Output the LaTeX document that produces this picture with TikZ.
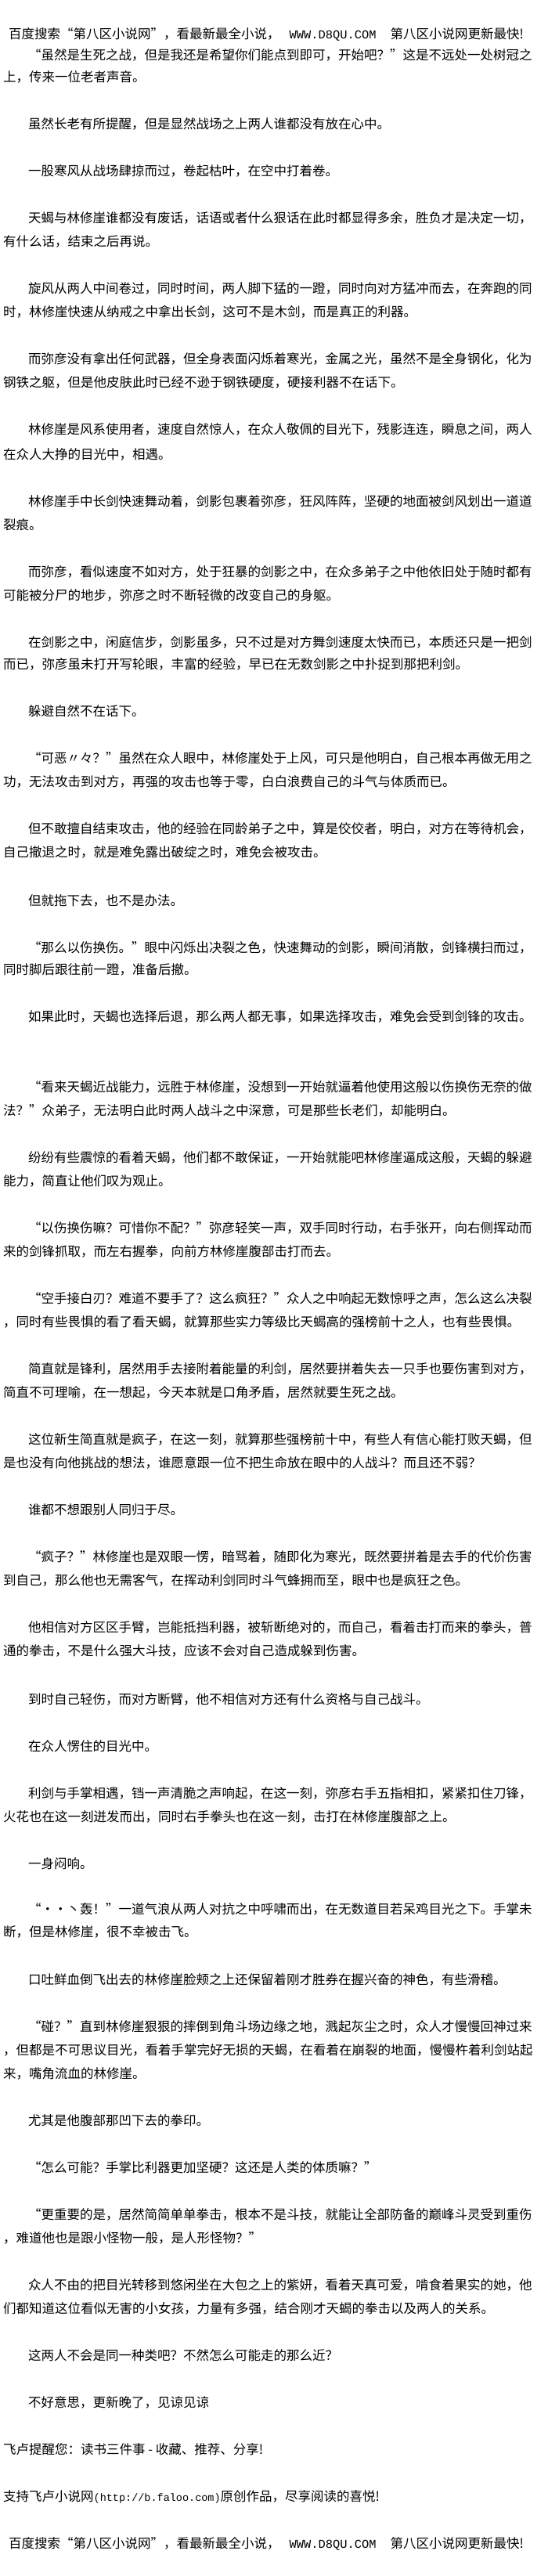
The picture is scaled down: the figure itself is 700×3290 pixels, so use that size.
\documentclass[tikz,border=0pt]{standalone}
\usepackage{fontspec}
\setmainfont{Noto Sans CJK SC}
\newfontfamily\monofont{Liberation Mono}
\usepackage{tikz}
\tikzset{>=latex}
\tikzset{
  txt/.style={anchor=west, inner sep=0pt, text height=14.5pt, text depth=2pt,
    font=\fontsize{16.5pt}{20pt}\selectfont}
}
\newcommand{\siteurl}{\hspace{12pt}{\fontsize{15.4pt}{20pt}\monofont WWW.D8QU.COM}\hspace{18pt}}
\begin{document}
\begin{tikzpicture}[x=1pt, y=-1pt]
        \useasboundingbox[fill=white] (0, 0) rectangle (700, 3290);
        % header
        \node[txt] (hd) at (11, 43) {百度搜索“第八区小说网”，看最新最全小说，\siteurl 第八区小说网更新最快!};
        % body
        \node[txt] (l1) at (36, 70) {“虽然是生死之战，但是我还是希望你们能点到即可，开始吧？”这是不远处一处树冠之};
        \node[txt] (l2) at (4, 98) {上，传来一位老者声音。};
        \node[txt] (l3) at (36, 158) {虽然长老有所提醒，但是显然战场之上两人谁都没有放在心中。};
        \node[txt] (l4) at (36, 218) {一股寒风从战场肆掠而过，卷起枯叶，在空中打着卷。};
        \node[txt] (l5) at (36, 278) {天蝎与林修崖谁都没有废话，话语或者什么狠话在此时都显得多余，胜负才是决定一切，};
        \node[txt] (l6) at (4, 308) {有什么话，结束之后再说。};
        \node[txt] (l7) at (36, 368) {旋风从两人中间卷过，同时时间，两人脚下猛的一蹬，同时向对方猛冲而去，在奔跑的同};
        \node[txt] (l8) at (4, 398) {时，林修崖快速从纳戒之中拿出长剑，这可不是木剑，而是真正的利器。};
        \node[txt] (l9) at (36, 458) {而弥彦没有拿出任何武器，但全身表面闪烁着寒光，金属之光，虽然不是全身钢化，化为};
        \node[txt] (l10) at (4, 488) {钢铁之躯，但是他皮肤此时已经不逊于钢铁硬度，硬接利器不在话下。};
        \node[txt] (l11) at (36, 548) {林修崖是风系使用者，速度自然惊人，在众人敬佩的目光下，残影连连，瞬息之间，两人};
        \node[txt] (l12) at (4, 580) {在众人大挣的目光中，相遇。};
        \node[txt] (l13) at (36, 640) {林修崖手中长剑快速舞动着，剑影包裹着弥彦，狂风阵阵，坚硬的地面被剑风划出一道道};
        \node[txt] (l14) at (4, 670) {裂痕。};
        \node[txt] (l15) at (36, 730) {而弥彦，看似速度不如对方，处于狂暴的剑影之中，在众多弟子之中他依旧处于随时都有};
        \node[txt] (l16) at (4, 760) {可能被分尸的地步，弥彦之时不断轻微的改变自己的身躯。};
        \node[txt] (l17) at (36, 820) {在剑影之中，闲庭信步，剑影虽多，只不过是对方舞剑速度太快而已，本质还只是一把剑};
        \node[txt] (l18) at (4, 848) {而已，弥彦虽未打开写轮眼，丰富的经验，早已在无数剑影之中扑捉到那把利剑。};
        \node[txt] (l19) at (36, 908) {躲避自然不在话下。};
        \node[txt] (l20) at (36, 968) {“可恶〃々？”虽然在众人眼中，林修崖处于上风，可只是他明白，自己根本再做无用之};
        \node[txt] (l21) at (4, 998) {功，无法攻击到对方，再强的攻击也等于零，白白浪费自己的斗气与体质而已。};
        \node[txt] (l22) at (36, 1058) {但不敢擅自结束攻击，他的经验在同龄弟子之中，算是佼佼者，明白，对方在等待机会，};
        \node[txt] (l23) at (4, 1088) {自己撤退之时，就是难免露出破绽之时，难免会被攻击。};
        \node[txt] (l24) at (36, 1150) {但就拖下去，也不是办法。};
        \node[txt] (l25) at (36, 1210) {“那么以伤换伤。”眼中闪烁出决裂之色，快速舞动的剑影，瞬间消散，剑锋横扫而过，};
        \node[txt] (l26) at (4, 1238) {同时脚后跟往前一蹬，准备后撤。};
        \node[txt] (l27) at (36, 1298) {如果此时，天蝎也选择后退，那么两人都无事，如果选择攻击，难免会受到剑锋的攻击。};
        \node[txt] (l28) at (36, 1388) {“看来天蝎近战能力，远胜于林修崖，没想到一开始就逼着他使用这般以伤换伤无奈的做};
        \node[txt] (l29) at (4, 1418) {法？”众弟子，无法明白此时两人战斗之中深意，可是那些长老们，却能明白。};
        \node[txt] (l30) at (36, 1478) {纷纷有些震惊的看着天蝎，他们都不敢保证，一开始就能吧林修崖逼成这般，天蝎的躲避};
        \node[txt] (l31) at (4, 1508) {能力，简直让他们叹为观止。};
        \node[txt] (l32) at (36, 1568) {“以伤换伤嘛？可惜你不配？”弥彦轻笑一声，双手同时行动，右手张开，向右侧挥动而};
        \node[txt] (l33) at (4, 1598) {来的剑锋抓取，而左右握拳，向前方林修崖腹部击打而去。};
        \node[txt] (l34) at (36, 1658) {“空手接白刃？难道不要手了？这么疯狂？”众人之中响起无数惊呼之声，怎么这么决裂};
        \node[txt] (l35) at (4, 1688) {，同时有些畏惧的看了看天蝎，就算那些实力等级比天蝎高的强榜前十之人，也有些畏惧。};
        \node[txt] (l36) at (36, 1748) {简直就是锋利，居然用手去接附着能量的利剑，居然要拼着失去一只手也要伤害到对方，};
        \node[txt] (l37) at (4, 1778) {简直不可理喻，在一想起，今天本就是口角矛盾，居然就要生死之战。};
        \node[txt] (l38) at (36, 1838) {这位新生简直就是疯子，在这一刻，就算那些强榜前十中，有些人有信心能打败天蝎，但};
        \node[txt] (l39) at (4, 1868) {是也没有向他挑战的想法，谁愿意跟一位不把生命放在眼中的人战斗？而且还不弱？};
        \node[txt] (l40) at (36, 1928) {谁都不想跟别人同归于尽。};
        \node[txt] (l41) at (36, 1988) {“疯子？”林修崖也是双眼一愣，暗骂着，随即化为寒光，既然要拼着是去手的代价伤害};
        \node[txt] (l42) at (4, 2018) {到自己，那么他也无需客气，在挥动利剑同时斗气蜂拥而至，眼中也是疯狂之色。};
        \node[txt] (l43) at (36, 2078) {他相信对方区区手臂，岂能抵挡利器，被斩断绝对的，而自己，看着击打而来的拳头，普};
        \node[txt] (l44) at (4, 2108) {通的拳击，不是什么强大斗技，应该不会对自己造成躲到伤害。};
        \node[txt] (l45) at (36, 2170) {到时自己轻伤，而对方断臂，他不相信对方还有什么资格与自己战斗。};
        \node[txt] (l46) at (36, 2230) {在众人愣住的目光中。};
        \node[txt] (l47) at (36, 2290) {利剑与手掌相遇，铛一声清脆之声响起，在这一刻，弥彦右手五指相扣，紧紧扣住刀锋，};
        \node[txt] (l48) at (4, 2320) {火花也在这一刻迸发而出，同时右手拳头也在这一刻，击打在林修崖腹部之上。};
        \node[txt] (l49) at (36, 2380) {一身闷响。};
        \node[txt] (l50) at (36, 2438) {“··丶轰！”一道气浪从两人对抗之中呼啸而出，在无数道目若呆鸡目光之下。手掌未};
        \node[txt] (l51) at (4, 2467) {断，但是林修崖，很不幸被击飞。};
        \node[txt] (l52) at (36, 2528) {口吐鲜血倒飞出去的林修崖脸颊之上还保留着刚才胜券在握兴奋的神色，有些滑稽。};
        \node[txt] (l53) at (36, 2588) {“碰？”直到林修崖狠狠的摔倒到角斗场边缘之地，溅起灰尘之时，众人才慢慢回神过来};
        \node[txt] (l54) at (4, 2618) {，但都是不可思议目光，看着手掌完好无损的天蝎，在看着在崩裂的地面，慢慢杵着利剑站起};
        \node[txt] (l55) at (4, 2648) {来，嘴角流血的林修崖。};
        \node[txt] (l56) at (36, 2708) {尤其是他腹部那凹下去的拳印。};
        \node[txt] (l57) at (36, 2768) {“怎么可能？手掌比利器更加坚硬？这还是人类的体质嘛？”};
        \node[txt] (l58) at (36, 2828) {“更重要的是，居然简简单单拳击，根本不是斗技，就能让全部防备的巅峰斗灵受到重伤};
        \node[txt] (l59) at (4, 2858) {，难道他也是跟小怪物一般，是人形怪物？”};
        \node[txt] (l60) at (36, 2918) {众人不由的把目光转移到悠闲坐在大包之上的紫妍，看着天真可爱，啃食着果实的她，他};
        \node[txt] (l61) at (4, 2948) {们都知道这位看似无害的小女孩，力量有多强，结合刚才天蝎的拳击以及两人的关系。};
        \node[txt] (l62) at (36, 3008) {这两人不会是同一种类吧？不然怎么可能走的那么近？};
        \node[txt] (l63) at (36, 3068) {不好意思，更新晚了，见谅见谅};
        % footer
        \node[txt] (ft1) at (4, 3128) {飞卢提醒您：读书三件事 - 收藏、推荐、分享!};
        \node[txt] (ft2) at (4, 3188) {支持飞卢小说网{\fontsize{13.5pt}{20pt}\monofont (http://b.faloo.com)}原创作品，尽享阅读的喜悦!};
        \node[txt] (ft3) at (11, 3248) {百度搜索“第八区小说网”，看最新最全小说，\siteurl 第八区小说网更新最快!};
      \end{tikzpicture}
\end{document}
